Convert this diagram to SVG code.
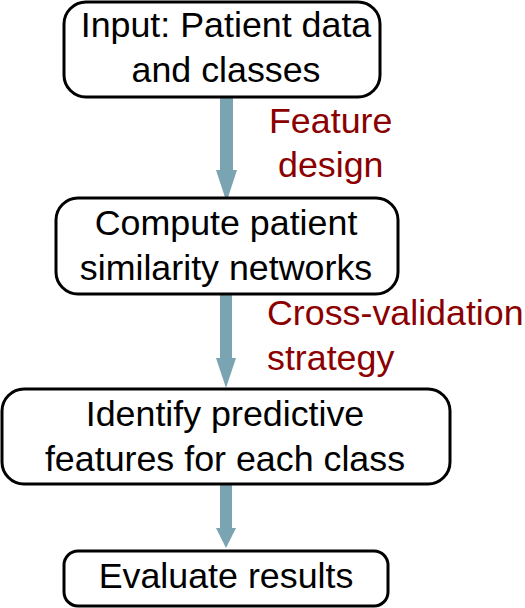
<svg xmlns="http://www.w3.org/2000/svg" width="525" height="608" viewBox="0 0 525 608">
<style>
.box{fill:#fff;stroke:#000;stroke-width:3}
.t{font-family:"Liberation Sans",Arial,sans-serif;font-size:35.8px;fill:#000;text-anchor:middle}
.lbl{font-family:"Liberation Sans",Arial,sans-serif;font-size:35.8px;fill:#8B0000}
.arr{fill:#7BA4B2}
</style>
<rect width="525" height="608" fill="#fff"/>
<g id="connectors">
<path class="arr" d="M220,95 H233 V170 H237 L226.5,202 L216,170 H220 Z"/>
<path class="arr" d="M220,294 H232 V358 H236 L226,388 L216,358 H220 Z"/>
<path class="arr" d="M220,484 H232 V528 H236 L226,548 L216,528 H220 Z"/>
</g>
<g id="node1">
<rect class="box" x="64" y="2" width="316" height="95" rx="22"/>
<text class="t" x="226" y="37">Input: Patient data</text>
<text class="t" x="226" y="82">and classes</text>
</g>
<g id="node2">
<rect class="box" x="56" y="198" width="342" height="96" rx="22"/>
<text class="t" x="226" y="235">Compute patient</text>
<text class="t" x="226" y="280">similarity networks</text>
</g>
<g id="node3">
<rect class="box" x="2" y="389" width="448" height="95" rx="22"/>
<text class="t" x="225" y="426">Identify predictive</text>
<text class="t" x="225" y="471">features for each class</text>
</g>
<g id="node4">
<rect class="box" x="64" y="551" width="324" height="55" rx="14"/>
<text class="t" x="226" y="588">Evaluate results</text>
</g>
<g id="labels">
<text class="lbl" x="269" y="133">Feature</text>
<text class="lbl" x="278" y="177">design</text>
<text class="lbl" x="267" y="325">Cross-validation</text>
<text class="lbl" x="267" y="370">strategy</text>
</g>
</svg>
